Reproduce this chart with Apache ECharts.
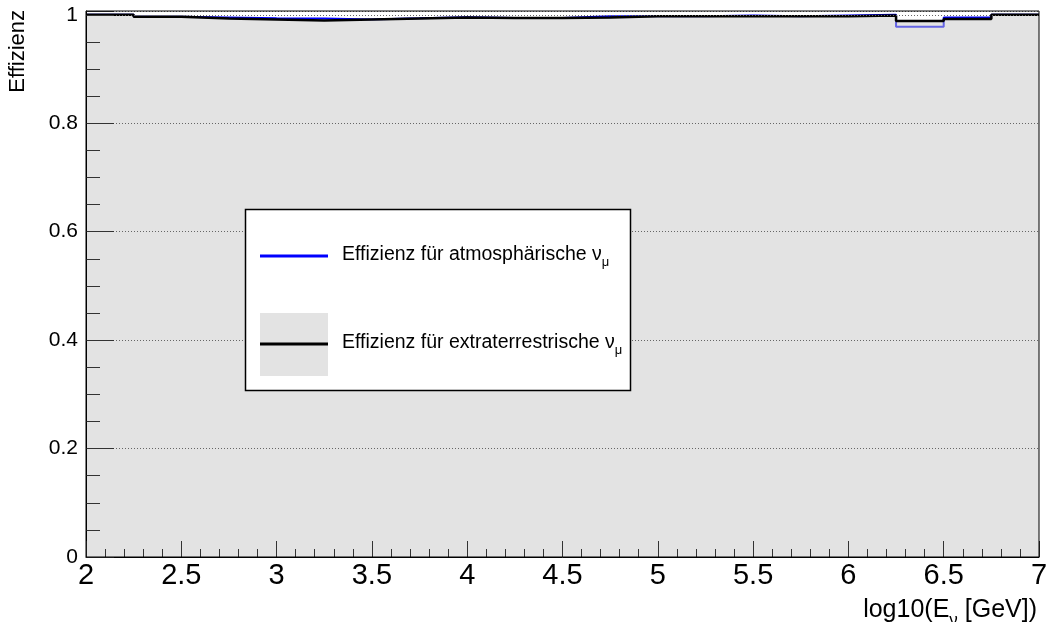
<!DOCTYPE html>
<html>
<head>
<meta charset="utf-8">
<script src="https://cdn.jsdelivr.net/npm/echarts@6/dist/echarts.min.js"></script>
<style>
html,body{margin:0;padding:0;background:#fff;}
#chart{width:1051px;height:622px;}
</style>
</head>
<body>
<div id="chart"></div>
<script>
// Bin edges: log10(E_nu [GeV]) from 2 to 7 in steps of 0.25
var binEdges = [2, 2.25, 2.5, 2.75, 3, 3.25, 3.5, 3.75, 4, 4.25, 4.5, 4.75, 5, 5.25, 5.5, 5.75, 6, 6.25, 6.5, 6.75, 7];
// Efficiency per bin (atmospheric nu_mu, blue)
var atmoEff = [1.0, 0.9962, 0.995, 0.9934, 0.9932, 0.9915, 0.9934, 0.9957, 0.9941, 0.9941, 0.9972, 0.9972, 0.9972, 0.9986, 0.9972, 0.9986, 1.0, 0.978, 0.995, 1.0];
// Efficiency per bin (extraterrestrial nu_mu, black with grey fill)
var extraEff = [1.0, 0.9962, 0.9932, 0.9913, 0.9895, 0.9913, 0.9932, 0.9948, 0.9941, 0.9941, 0.9948, 0.9972, 0.9972, 0.9972, 0.9972, 0.9972, 0.9985, 0.9886, 0.9923, 1.0];
var xTicks = ['2', '2.5', '3', '3.5', '4', '4.5', '5', '5.5', '6', '6.5', '7'];
var yTicks = ['0', '0.2', '0.4', '0.6', '0.8', '1'];
var legendLabels = ['Effizienz f\u00fcr atmosph\u00e4rische \u03bd', 'Effizienz f\u00fcr extraterrestrische \u03bd'];
var xTitle = ['log10(E', '\u03bd', ' [GeV])'];
var yTitle = 'Effizienz';

function stepData(vals) {
  var d = [];
  for (var i = 0; i < vals.length; i++) d.push([binEdges[i], vals[i]]);
  d.push([binEdges[binEdges.length - 1], vals[vals.length - 1]]);
  return d;
}

var FONT = 'Liberation Sans, Arial, Helvetica, sans-serif';
var chart = echarts.init(document.getElementById('chart'), null, {renderer: 'canvas'});

var option = {
  backgroundColor: '#fff',
  animation: false,
  grid: {left: 86, right: 12, top: 11, bottom: 65, show: true, z: 10, backgroundColor: 'transparent', borderColor: '#000', borderWidth: 1},
  xAxis: {
    type: 'value', min: 2, max: 7, interval: 0.5,
    axisLine: {show: true, onZero: false, lineStyle: {color: '#000', width: 1}},
    axisTick: {show: true, inside: true, length: 16, lineStyle: {color: '#333', width: 1}},
    minorTick: {show: true, splitNumber: 5, length: 8, lineStyle: {color: '#333', width: 1}},
    axisLabel: {
      fontSize: 29, color: '#000', fontFamily: FONT, margin: 4,
      formatter: function (v) { var i = Math.round((v - 2) / 0.5); return xTicks[i] !== undefined ? xTicks[i] : ''; }
    },
    splitLine: {show: false},
    z: 5
  },
  yAxis: {
    type: 'value', min: 0, max: 1.007, interval: 0.2,
    axisLine: {show: true, onZero: false, lineStyle: {color: '#000', width: 1}},
    axisTick: {show: true, inside: true, length: 28, lineStyle: {color: '#333', width: 1}},
    minorTick: {show: true, splitNumber: 4, length: 14, lineStyle: {color: '#333', width: 1}},
    axisLabel: {
      fontSize: 21, color: '#000', fontFamily: FONT, margin: 8, showMaxLabel: false,
      formatter: function (v) { var i = Math.round(v / 0.2); return (Math.abs(v - i * 0.2) < 1e-6 && yTicks[i] !== undefined) ? yTicks[i] : ''; }
    },
    splitLine: {show: true, lineStyle: {color: '#666', width: 1, type: [1, 2]}},
    z: 5
  },
  series: [
    {
      name: 'atmo', type: 'line', step: 'end', data: stepData(atmoEff),
      symbol: 'none', lineStyle: {color: '#0000ff', width: 2}, z: 2
    },
    {
      name: 'extra', type: 'line', step: 'end', data: stepData(extraEff),
      symbol: 'none', lineStyle: {color: '#000', width: 2.5},
      areaStyle: {color: '#c8c8c8', opacity: 0.5, origin: 'start'}, z: 3
    }
  ],
  graphic: [
    {
      type: 'text', x: 18, y: 10, rotation: Math.PI / 2, z: 40,
      style: {text: yTitle, font: '22px ' + FONT, fill: '#000', align: 'right', verticalAlign: 'middle'}
    },
    {
      type: 'text', x: 1037, y: 592, z: 40,
      style: {
        text: xTitle[0] + '{sub|' + xTitle[1] + '}' + xTitle[2],
        font: '25px ' + FONT, fill: '#000', align: 'right', verticalAlign: 'top',
        rich: {sub: {fontSize: 17, fontFamily: FONT, fill: '#000', padding: [20, 0, 0, 0]}}
      }
    },
    {type: 'rect', z: 40, shape: {x: 245.5, y: 209.5, width: 385, height: 181}, style: {fill: '#fff', stroke: '#000', lineWidth: 1.5}},
    {type: 'line', z: 41, shape: {x1: 260, y1: 256, x2: 328, y2: 256}, style: {stroke: '#0000ff', lineWidth: 3}},
    {type: 'rect', z: 41, shape: {x: 260, y: 313, width: 68, height: 63}, style: {fill: '#e3e3e3'}},
    {type: 'line', z: 42, shape: {x1: 260, y1: 344, x2: 328, y2: 344}, style: {stroke: '#000', lineWidth: 3}},
    {type: 'text', z: 42, x: 342, y: 255, style: {text: legendLabels[0] + '{sub|\u03bc}', font: '19.5px ' + FONT, fill: '#000', verticalAlign: 'middle',
      rich: {sub: {fontSize: 13, fontFamily: FONT, fill: '#000', padding: [15, 0, 0, 0]}}}},
    {type: 'text', z: 42, x: 342, y: 343, style: {text: legendLabels[1] + '{sub|\u03bc}', font: '19.5px ' + FONT, fill: '#000', verticalAlign: 'middle',
      rich: {sub: {fontSize: 13, fontFamily: FONT, fill: '#000', padding: [15, 0, 0, 0]}}}}
  ]
};
chart.setOption(option);
</script>
</body>
</html>
